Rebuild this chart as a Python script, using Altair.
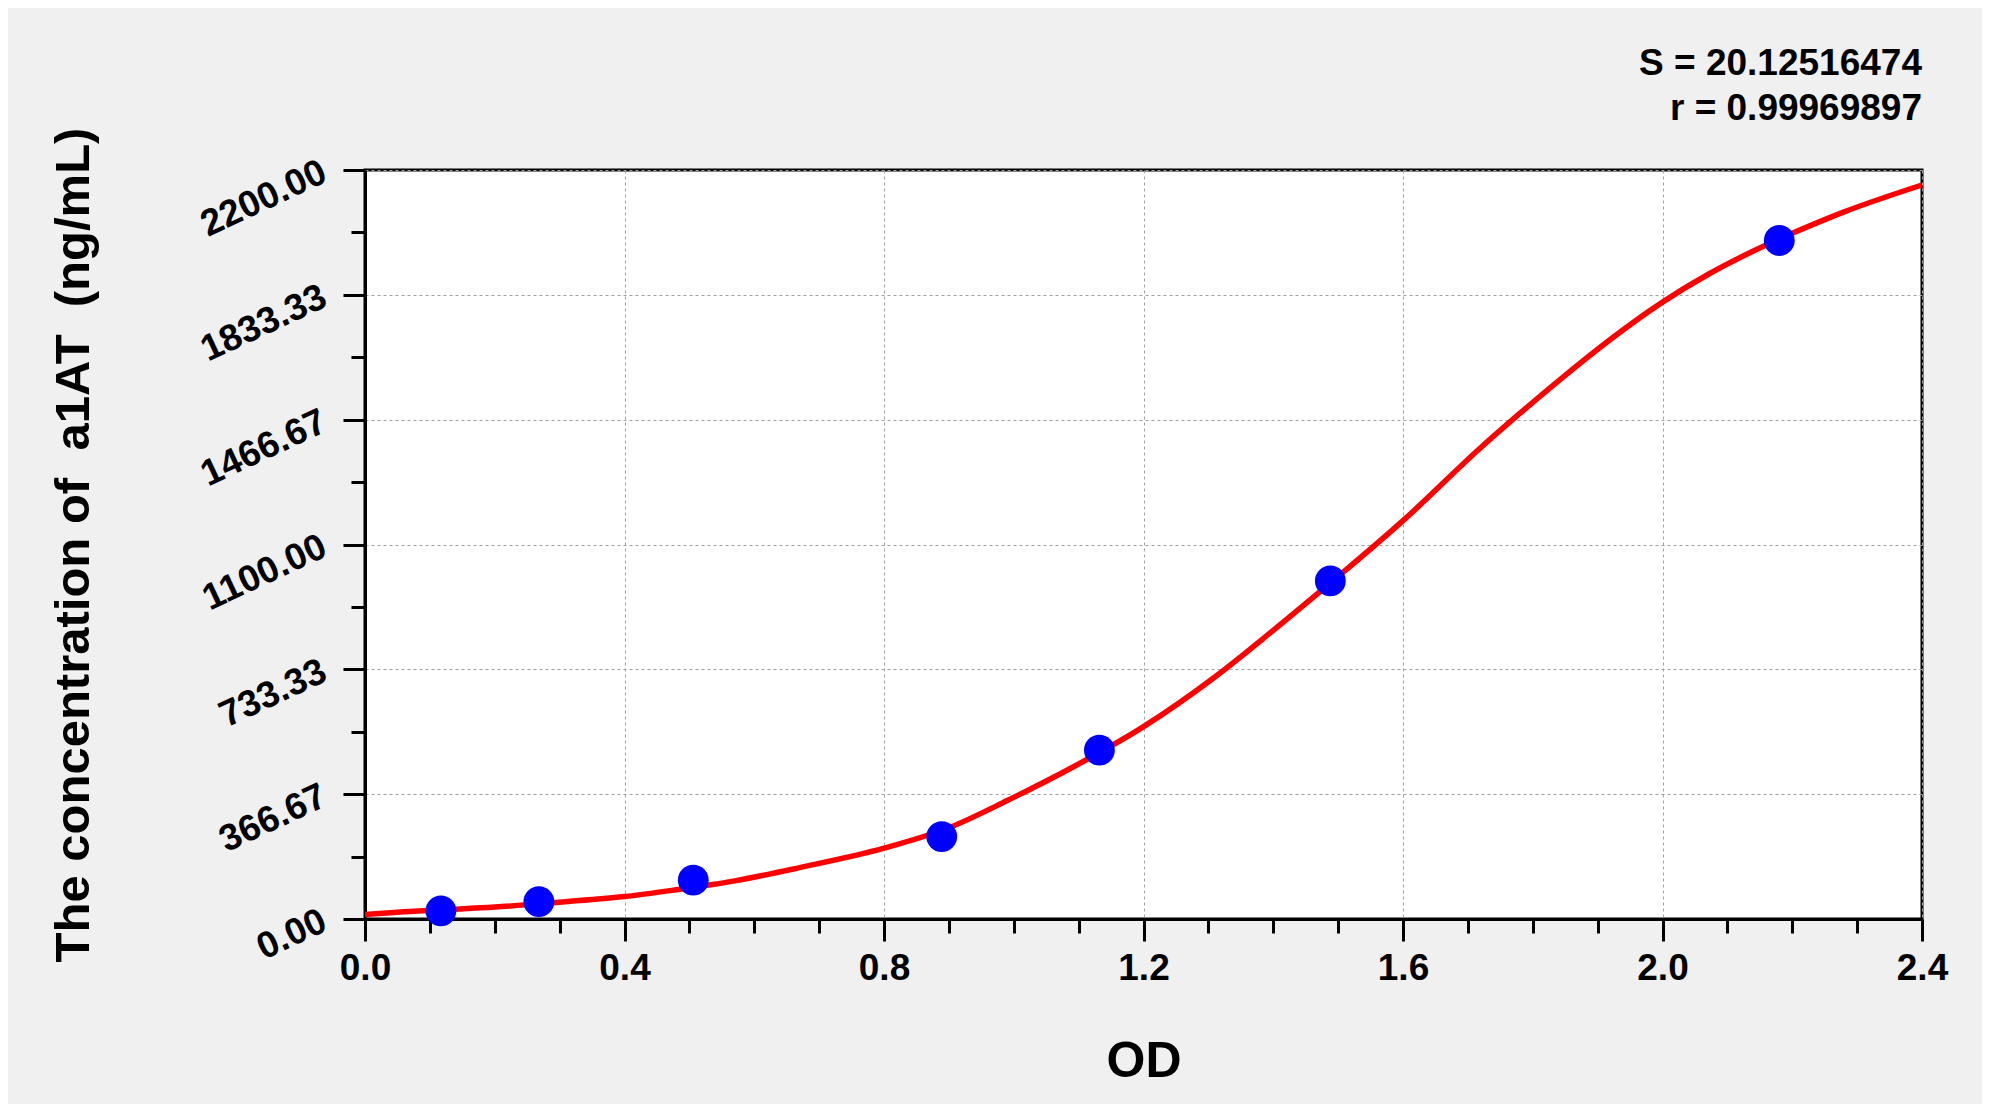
import altair as alt
import pandas as pd

# ---- data ----
od_points = [0.117, 0.268, 0.506, 0.889, 1.132, 1.488, 2.180]
conc_points = [24, 51, 114, 242, 496, 993, 1993]

curve_od = [0.00, 0.05, 0.12, 0.20, 0.27, 0.35, 0.40, 0.48, 0.57, 0.67,
            0.80, 0.90, 0.99, 1.09, 1.20, 1.31, 1.40, 1.49, 1.60, 1.72,
            1.78, 1.85, 1.92, 2.00, 2.07, 2.14, 2.20, 2.28, 2.40]
curve_conc = [13, 20, 27, 35, 45, 57, 66, 86, 112, 151,
              208, 268, 348, 445, 565, 711, 848, 990, 1170, 1385,
              1485, 1597, 1703, 1812, 1893, 1962, 2014, 2077, 2156]

x_ticks = [round(i * 0.1, 1) for i in range(25)]
y_ticks = [2200 * i / 24 for i in range(25)]

stat_s = "S = 20.12516474"
stat_r = "r = 0.99969897"
x_title = "OD"
y_title = "The concentration of \u00a0a1AT \u00a0(ng/mL)"

FONT = "Liberation Sans"

points_df = pd.DataFrame({"od": od_points, "conc": conc_points})
curve_df = pd.DataFrame({"od": curve_od, "conc": curve_conc})

x_major = "round(datum.value * 10) % 4 == 0"
y_major = "round(datum.value / (2200 / 24)) % 4 == 0"

x_scale = alt.Scale(domain=[0, 2.4], nice=False, zero=False)
y_scale = alt.Scale(domain=[0, 2200], nice=False, zero=False)

x_axis = alt.Axis(
    values=x_ticks, format=".1f",
    labelExpr=f"{x_major} ? datum.label : ''",
    labelFont=FONT, labelFontSize=37, labelFontWeight="bold", labelColor="black",
    labelPadding=9, labelFlush=False, labelOverlap=False, labelBaseline="top",
    tickSize={"condition": {"test": x_major, "value": 22}, "value": 14},
    tickWidth=3, tickColor="black",
    domainColor="black", domainWidth=3,
    grid=True, gridColor="#A0A0A0", gridDash=[3, 3], gridWidth=1,
    gridOpacity={"condition": {"test": x_major, "value": 1}, "value": 0},
    title=x_title, titleFont=FONT, titleFontSize=50, titleFontWeight="bold",
    titleColor="black", titleY=142, titleBaseline="middle",
)

y_axis = alt.Axis(
    values=y_ticks, format=".2f",
    labelExpr=f"{y_major} ? datum.label : ''",
    labelFont=FONT, labelFontSize=37, labelFontWeight="bold", labelColor="black",
    labelAngle=335, labelAlign="right", labelBaseline="middle",
    labelPadding=19, labelFlush=False, labelOverlap=False,
    tickSize={"condition": {"test": y_major, "value": 22}, "value": 14},
    tickWidth=3, tickColor="black",
    domainColor="black", domainWidth=3,
    grid=True, gridColor="#A0A0A0", gridDash=[3, 3], gridWidth=1,
    gridOpacity={"condition": {"test": y_major, "value": 1}, "value": 0},
    title=y_title, titleFont=FONT, titleFontSize=49, titleFontWeight="bold",
    titleColor="black", titleAngle=270, titleX=-292, titleY=374.5,
    titleAlign="center", titleBaseline="middle",
)

curve = alt.Chart(curve_df).mark_line(
    color="#FF0000", strokeWidth=5.5, interpolate="monotone"
).encode(
    x=alt.X("od:Q", scale=x_scale, axis=x_axis),
    y=alt.Y("conc:Q", scale=y_scale, axis=y_axis),
)

pts = alt.Chart(points_df).mark_circle(
    color="#0000FF", size=950, opacity=1
).encode(
    x=alt.X("od:Q", scale=x_scale),
    y=alt.Y("conc:Q", scale=y_scale),
)

chart = alt.layer(curve, pts).properties(
    width=1557,
    height=749,
    autosize=alt.AutoSizeParams(type="none"),
    padding={"left": 357, "top": 162, "right": 60, "bottom": 185},
    background="#F0F0F0",
    title=alt.TitleParams(
        text=stat_s, subtitle=stat_r, anchor="end", frame="group",
        font=FONT, fontSize=37, fontWeight="bold", color="black",
        subtitleFont=FONT, subtitleFontSize=37, subtitleFontWeight="bold",
        subtitleColor="black", subtitlePadding=8, offset=-1,
    ),
).configure_view(
    stroke="black", strokeWidth=3, fill="white"
)

chart.save("out.html", embed_options={"renderer": "svg", "actions": False})
